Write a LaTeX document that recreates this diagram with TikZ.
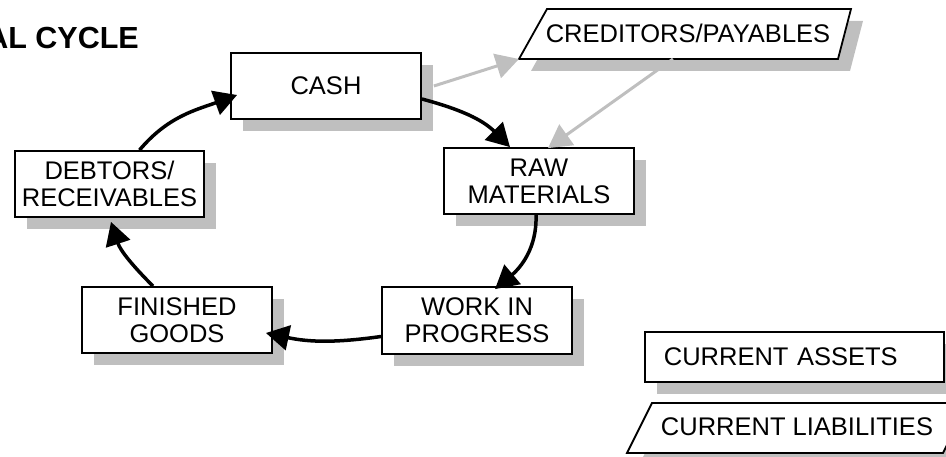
\documentclass[tikz,border=0pt]{standalone}
\usepackage{fontspec}
\setmainfont{Liberation Sans}
\usetikzlibrary{arrows.meta,shadows}
\definecolor{shade}{RGB}{191,191,191}
\newcommand\boxfont{\fontsize{25.5}{27}\selectfont}
\begin{document}
\begin{tikzpicture}[x=1pt,y=1pt,
  box/.style={draw=black, line width=1.8pt, fill=white, minimum width=190pt,
    minimum height=66pt, align=center, inner sep=0pt, font=\boxfont,
    drop shadow={shadow xshift=12pt, shadow yshift=-12pt, fill=shade, opacity=1}},
  para/.style={draw=black, line width=1.8pt, fill=white},
  parashadow/.style={fill=shade},
  lbl/.style={font=\boxfont, inner sep=0pt},
  cyc/.style={line width=3.5pt, -{Triangle[length=23pt,width=25pt]}},
  gry/.style={draw=shade, line width=3pt, -{Triangle[length=23pt,width=25pt]}}]
\useasboundingbox (0,0) rectangle (946,457);

% title
\node[font=\bfseries\fontsize{30.5}{32}\selectfont, anchor=base east, inner sep=0pt] (title) at (139,408) {AL CYCLE};

% cycle boxes
\node[box] (cash) at (326,371) {CASH};
\node[box] (raw)  at (539,276) {RAW\\MATERIALS};
\node[box, minimum height=67pt] (wip) at (477,136.5) {WORK IN\\PROGRESS};
\node[box] (fg)   at (177,137) {FINISHED\\GOODS};
\node[box, minimum width=189pt] (debt) at (109.5,273) {DEBTORS/\\RECEIVABLES};

% creditors parallelogram
\fill[parashadow, shift={(12,-12)}] (519,398) -- (838,398) -- (851,448) -- (547,448) -- cycle;
\draw[para] (519,398) coordinate (crbl) -- (838,398) -- (851,448) -- (547,448) -- cycle;
\coordinate (crb) at (673,398);
\node[lbl, anchor=base] (cred) at (688,414) {CREDITORS/PAYABLES};

% legend
\node[box, minimum width=299pt, minimum height=50pt, anchor=west, inner xsep=19pt,
  text width=261pt, align=left] (ca) at (644,100) {CURRENT ASSETS};
\fill[parashadow, shift={(12,-12)}] (627,4) -- (943,4) -- (968,54) -- (652,54) -- cycle;
\draw[para] (627,4) -- (943,4) -- (968,54) -- (652,54) -- cycle;
\node[lbl, anchor=base] (cl) at (797,21) {CURRENT LIABILITIES};

% gray connectors
\draw[gry] ([xshift=12pt]cash.east) -- (crbl);
\draw[gry] (crb) -- ([xshift=9pt,yshift=-1pt]raw.north);

% cycle connectors
\draw[cyc] ([yshift=-13pt]cash.east) to[out=-15,in=135] ([xshift=-29pt]raw.north);
\draw[cyc] ([xshift=-3pt]raw.south) to[out=-88,in=40] ([xshift=18pt,yshift=-3pt]wip.north);
\draw[cyc] ([yshift=-16pt]wip.west) to[out=188,in=-12] ([xshift=-7pt,yshift=-13pt]fg.east);
\draw[cyc] ([xshift=-24pt]fg.north) to[out=135,in=-72] ([xshift=1.5pt,yshift=-4pt]debt.south);
\draw[cyc] ([xshift=30pt]debt.north) to[out=50,in=200] ([xshift=7pt,yshift=-9pt]cash.west);
\end{tikzpicture}
\end{document}
